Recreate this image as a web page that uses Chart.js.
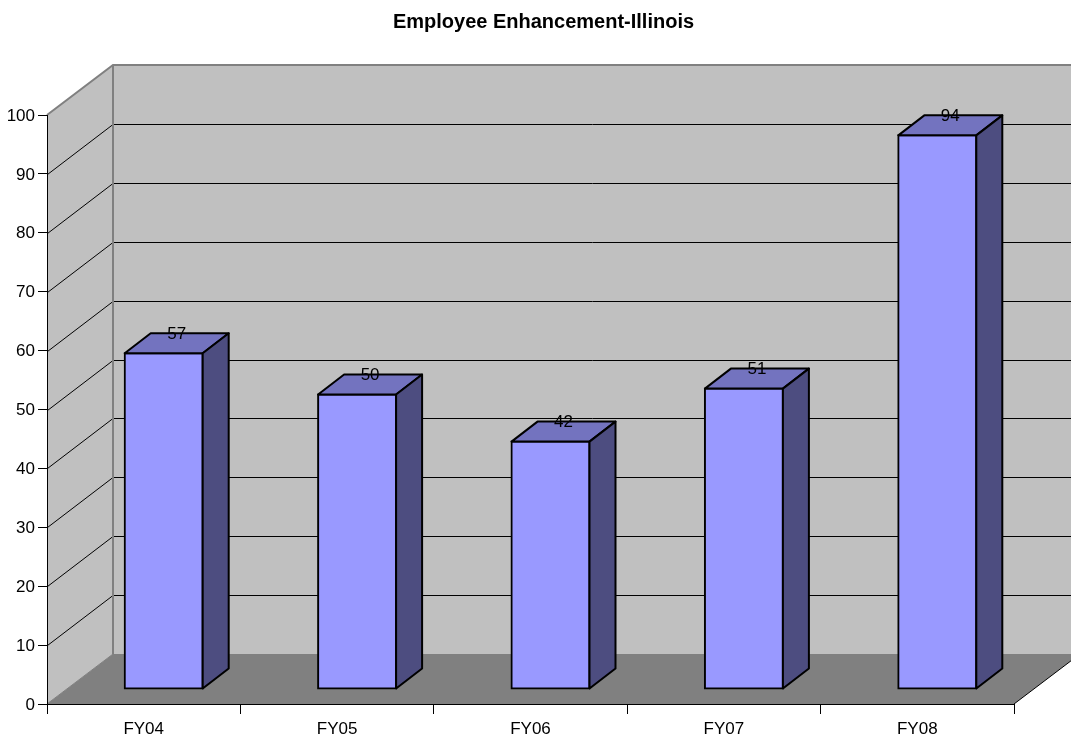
<!DOCTYPE html>
<html>
<head>
<meta charset="utf-8">
<style>
  html, body { margin: 0; padding: 0; background: #fff; }
  canvas { display: block; }
</style>
<script src="https://cdn.jsdelivr.net/npm/chart.js@4/dist/chart.umd.min.js"></script>
</head>
<body>
<canvas id="chart" width="1071" height="735"></canvas>
<script>
const titleText = "Employee Enhancement-Illinois";
const categories = ["FY04", "FY05", "FY06", "FY07", "FY08"];
const enhancement = [57, 50, 42, 51, 94];
const yTicks = [0, 10, 20, 30, 40, 50, 60, 70, 80, 90, 100];

const FONT = "Liberation Sans, Arial, sans-serif";

/* 3D look: wall depth and how far the bars sit inside it */
const wallDx = 66, wallDy = -50;
const barDx = 20, barDy = -15;
const barDepthX = 26, barDepthY = -20;

function poly(ctx, pts, fill, stroke, lw) {
  ctx.beginPath();
  pts.forEach((p, i) => i ? ctx.lineTo(p[0], p[1]) : ctx.moveTo(p[0], p[1]));
  ctx.closePath();
  if (fill) { ctx.fillStyle = fill; ctx.fill(); }
  if (stroke) { ctx.strokeStyle = stroke; ctx.lineWidth = lw; ctx.lineJoin = "round"; ctx.stroke(); }
}

const walls = {
  id: "walls",
  afterLayout(chart) {
    /* title sits a bit right of the canvas centre */
    chart.titleBlock.left = 16;
    chart.titleBlock.right = 1071;
  },
  beforeDraw(chart) {
    const { ctx, chartArea: a, scales: { y } } = chart;
    const L = a.left, R = a.right, T = a.top, B = a.bottom;
    ctx.save();
    /* back wall, side wall, floor */
    poly(ctx, [[L + wallDx, T + wallDy], [R + wallDx, T + wallDy], [R + wallDx, B + wallDy], [L + wallDx, B + wallDy]], "#c0c0c0");
    poly(ctx, [[L, T], [L + wallDx, T + wallDy], [L + wallDx, B + wallDy], [L, B]], "#c0c0c0");
    poly(ctx, [[L, B], [R, B], [R + wallDx, B + wallDy], [L + wallDx, B + wallDy]], "#808080");

    /* gridlines */
    ctx.strokeStyle = "#000";
    ctx.lineWidth = 1;
    yTicks.slice(1, -1).forEach(v => {
      const py = Math.round(y.getPixelForValue(v)) + 0.5;
      ctx.beginPath();
      ctx.moveTo(L + 0.5, py);
      ctx.lineTo(L + wallDx, py + wallDy);
      ctx.lineTo(R + wallDx, py + wallDy);
      ctx.stroke();
    });

    /* wall edges */
    ctx.strokeStyle = "#808080";
    ctx.lineWidth = 2;
    ctx.beginPath();
    ctx.moveTo(L, T);
    ctx.lineTo(L + wallDx, T + wallDy);
    ctx.lineTo(R + wallDx, T + wallDy);
    ctx.moveTo(L + wallDx, T + wallDy);
    ctx.lineTo(L + wallDx, B + wallDy);
    ctx.stroke();
    ctx.lineWidth = 1;
    ctx.beginPath();
    ctx.moveTo(L, B);
    ctx.lineTo(L + wallDx, B + wallDy);
    ctx.stroke();
    ctx.strokeStyle = "#000";
    ctx.beginPath();
    ctx.moveTo(R, B);
    ctx.lineTo(R + wallDx, B + wallDy);
    ctx.stroke();
    ctx.restore();
  }
};

const bars3d = {
  id: "bars3d",
  beforeDatasetDraw(chart) {
    chart.ctx.save();
    chart.ctx.translate(barDx, barDy);
  },
  afterDatasetDraw(chart, args) {
    const ctx = chart.ctx;
    args.meta.data.forEach((bar, i) => {
      const l = bar.x - bar.width / 2, r = bar.x + bar.width / 2;
      const t = bar.y, b = bar.base;
      const dx = barDepthX, dy = barDepthY;
      poly(ctx, [[l, t], [l + dx, t + dy], [r + dx, t + dy], [r, t]], "#7373bf", "#000", 2);
      poly(ctx, [[r, t], [r + dx, t + dy], [r + dx, b + dy], [r, b]], "#4d4d80", "#000", 2);
      ctx.fillStyle = "#000";
      ctx.font = "17px " + FONT;
      ctx.textAlign = "center";
      ctx.textBaseline = "middle";
      ctx.fillText(String(enhancement[i]), bar.x + dx / 2, t + dy + 1);
    });
    ctx.restore();
  }
};

new Chart(document.getElementById("chart"), {
  type: "bar",
  data: {
    labels: categories,
    datasets: [{
      label: "Employee Enhancement",
      data: enhancement,
      backgroundColor: "#9999ff",
      borderColor: "#000",
      borderWidth: 2,
      borderSkipped: false,
      inflateAmount: 1,
      barThickness: 78,
      clip: false
    }]
  },
  options: {
    responsive: false,
    animation: false,
    layout: { padding: { left: 0, right: 57, top: 0, bottom: 0 } },
    plugins: {
      legend: { display: false },
      tooltip: { enabled: false },
      title: {
        display: true,
        text: titleText,
        color: "#000",
        font: { family: FONT, size: 20, weight: "bold" },
        padding: { top: 10, bottom: 81 }
      }
    },
    scales: {
      x: {
        grid: { display: true, drawOnChartArea: false, drawTicks: true, tickLength: 10, color: "#000", lineWidth: 1 },
        border: { color: "#000", width: 1 },
        ticks: { color: "#000", font: { family: FONT, size: 17 }, maxRotation: 0, padding: 5 },
        afterFit(s) { s.height = 31; }
      },
      y: {
        min: 0,
        max: 100,
        grid: { display: true, drawOnChartArea: false, drawTicks: true, tickLength: 9, color: "#000", lineWidth: 1 },
        border: { color: "#000", width: 1 },
        ticks: {
          color: "#000",
          font: { family: FONT, size: 17 },
          stepSize: 10,
          padding: 3,
          labelOffset: 1
        },
        afterFit(s) { s.width = 47; }
      }
    }
  },
  plugins: [walls, bars3d]
});
</script>
</body>
</html>
